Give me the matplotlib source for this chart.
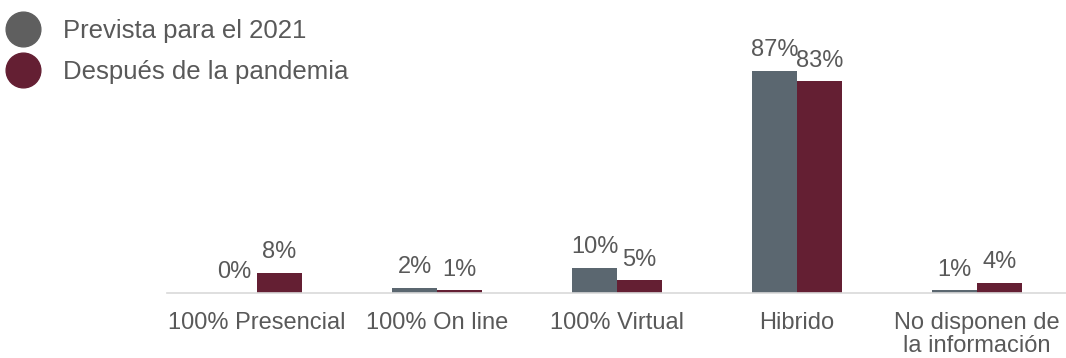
import matplotlib.pyplot as plt
import numpy as np
from matplotlib.lines import Line2D

plt.rcParams['font.family'] = ['Liberation Sans', 'DejaVu Sans']

categories = ['100% Presencial', '100% On line', '100% Virtual', 'Hibrido',
              'No disponen de\nla información']
prevista_2021 = [0, 2, 10, 87, 1]
despues_pandemia = [8, 1, 5, 83, 4]
series_names = ['Prevista para el 2021', 'Después de la pandemia']

grey = '#5B6770'
maroon = '#641F33'
text_col = '#595959'

fig = plt.figure(figsize=(10.66, 3.58), dpi=100)
ax = fig.add_axes([167 / 1066, 65 / 358, 900 / 1066, 255 / 358])

x = np.arange(len(categories))
w = 0.25
b1 = ax.bar(x - w / 2, prevista_2021, w, color=grey)
b2 = ax.bar(x + w / 2, despues_pandemia, w, color=maroon)

for bars, vals in [(b1, prevista_2021), (b2, despues_pandemia)]:
    for rect, v in zip(bars, vals):
        ax.annotate(f'{v}%', (rect.get_x() + rect.get_width() / 2, rect.get_height()),
                    xytext=(0, 7), textcoords='offset points', ha='center', va='bottom',
                    fontsize=17, color=text_col)

ax.set_xlim(-0.5, len(categories) - 0.5)
ax.set_ylim(0, 100)
ax.set_xticks(x)
ax.set_xticklabels(categories, fontsize=17, color=text_col, linespacing=1.05)
ax.tick_params(axis='x', length=0, pad=14)
ax.set_yticks([])
for s in ['top', 'right', 'left']:
    ax.spines[s].set_visible(False)
ax.spines['bottom'].set_color('#D9D9D9')
ax.spines['bottom'].set_linewidth(1.2)

handles = [Line2D([], [], marker='o', linestyle='none', markersize=25,
                  markerfacecolor=c, markeredgecolor=c)
           for c in ['#5F5F5F', maroon]]
leg = fig.legend(handles, series_names, loc='upper left', bbox_to_anchor=(0.0, 0.964),
                 frameon=False, fontsize=18.5, labelcolor=text_col,
                 handletextpad=0.9, labelspacing=0.66, borderaxespad=0, borderpad=0.25,
                 handlelength=1.3)

fig.savefig('out.png', dpi=100)
